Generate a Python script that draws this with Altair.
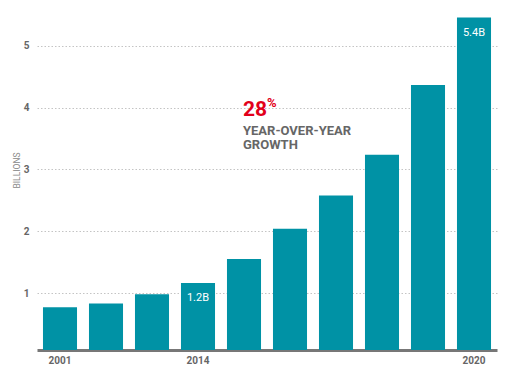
import altair as alt
import pandas as pd

# ---- data ----
bar_ids = list(range(10))
values = [0.77, 0.83, 0.98, 1.16, 1.55, 2.04, 2.58, 3.24, 4.37, 5.46]
bar_labels = ["", "", "", "1.2B", "", "", "", "", "", "5.4B"]
tick_labels = {0: "2001", 3: "2014", 9: "2020"}
y_ticks = [1, 2, 3, 4, 5]
y_min, y_max = 0.077, 5.518

anno_idx = 4
anno_texts = ["28", "%", "YEAR-OVER-YEAR", "GROWTH"]
anno_y = [3.86, 4.01, 3.565, 3.325]

FONT = "Roboto"
TEAL = "#0092a5"
RED = "#e2001a"
GRAY = "#666666"

df = pd.DataFrame({"idx": bar_ids, "value": values, "label": bar_labels})

label_expr = "''"
for k, v in sorted(tick_labels.items(), reverse=True):
    label_expr = f"datum.value == {k} ? '{v}' : ({label_expr})"

x_enc = alt.X(
    "idx:O",
    scale=alt.Scale(paddingInner=0.26, paddingOuter=0.13),
    axis=alt.Axis(
        title=None, labelAngle=0, ticks=False, domainColor="#777777", domainWidth=3,
        labelExpr=label_expr, labelFont=FONT, labelFontSize=10, labelFontWeight="bold",
        labelColor=GRAY, labelPadding=5,
    ),
)
y_scale = alt.Scale(domain=[y_min, y_max], zero=False, nice=False)

bars = alt.Chart(df).mark_bar(color=TEAL, clip=True).encode(
    x=x_enc,
    y=alt.Y(
        "value:Q", scale=y_scale,
        axis=alt.Axis(
            title="BILLIONS", values=y_ticks, format="d", ticks=False, domain=False,
            grid=True, gridColor="#c4c4c4", gridDash=[1.5, 2], gridWidth=1,
            labelFont=FONT, labelFontSize=10, labelFontWeight="bold", labelColor=GRAY,
            labelPadding=8, titleFont=FONT, titleFontSize=8.5, titleFontWeight="normal",
            titleColor="#888888", titleAngle=-90, titleX=-21, titleY=156,
            titleAlign="center", titleBaseline="middle",
        ),
    ),
    y2=alt.Y2(datum=y_min),
)

bar_text = alt.Chart(df).mark_text(
    font=FONT, fontSize=11, color="white", baseline="alphabetic", dy=18
).encode(x="idx:O", y=alt.Y("value:Q", scale=y_scale), text="label:N")

def anno(text, yv, size, color, dx=0):
    d = pd.DataFrame({"idx": [anno_idx], "y": [yv], "t": [text]})
    return alt.Chart(d).mark_text(
        font=FONT, fontSize=size, fontWeight="bold", color=color,
        align="left", baseline="alphabetic", dx=dx,
    ).encode(x="idx:O", y=alt.Y("y:Q", scale=y_scale), text="t:N")

annos = [
    anno(anno_texts[0], anno_y[0], 21, RED, -1),
    anno(anno_texts[1], anno_y[1], 13, RED, 23),
    anno(anno_texts[2], anno_y[2], 13, GRAY, -1),
    anno(anno_texts[3], anno_y[3], 13, GRAY, -1),
]

chart = alt.layer(bars, bar_text, *annos).properties(
    width=460, height=336,
    autosize=alt.AutoSizeParams(type="none"),
    padding={"left": 29, "top": 6, "right": 10, "bottom": 20},
).configure_view(stroke=None)

chart.save("out.html", embed_options={"renderer": "svg", "actions": False})
